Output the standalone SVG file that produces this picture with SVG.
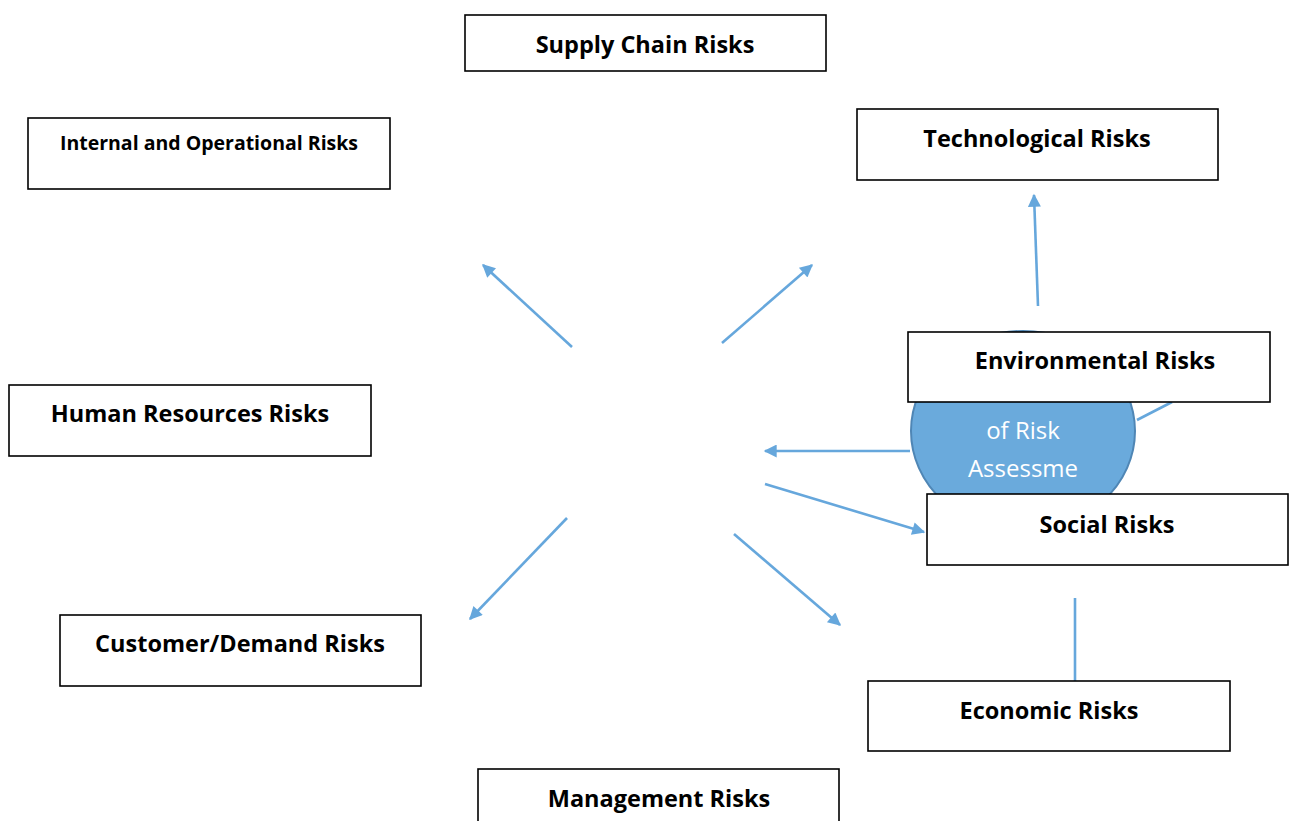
<svg xmlns="http://www.w3.org/2000/svg" width="1290" height="821" viewBox="0 0 1290 821">
  <style>
    .box { fill: #ffffff; stroke: #000000; stroke-width: 1.6; }
    .lbl { font-family: "Open Sans", Lato, "Liberation Sans", sans-serif; font-weight: bold; font-size: 23.5px; fill: #000000; text-anchor: middle; }
    .small { font-size: 19.5px; }
    .conn { stroke: #66a7dc; stroke-width: 2.6; fill: none; }
    .hub { fill: #6aaadc; stroke: #4f86b5; stroke-width: 2; }
    .hubtxt { font-family: "Open Sans", Lato, "Liberation Sans", sans-serif; font-size: 24px; fill: #ffffff; text-anchor: middle; }
  </style>
  <defs>
    <marker id="arr" viewBox="0 0 10 10" refX="9" refY="5" markerWidth="6" markerHeight="5" markerUnits="strokeWidth" orient="auto">
      <path d="M0,0 L10,5 L0,10 z" fill="#66a7dc"/>
    </marker>
  </defs>

  <rect width="1290" height="821" fill="#ffffff"/>

  <!-- central hub (partly hidden behind neighbouring boxes) -->
  <g id="hub">
    <ellipse class="hub" cx="1023" cy="431" rx="112" ry="100"/>
    <text class="hubtxt" x="1023" y="439">of Risk</text>
    <text class="hubtxt" x="1023" y="477">Assessme</text>
  </g>

  <g id="connectors">
    <line class="conn" x1="572" y1="347" x2="483" y2="265" marker-end="url(#arr)"/>
    <line class="conn" x1="722" y1="343" x2="812" y2="265" marker-end="url(#arr)"/>
    <line class="conn" x1="910" y1="451" x2="765" y2="451" marker-end="url(#arr)"/>
    <line class="conn" x1="765" y1="484" x2="924" y2="532" marker-end="url(#arr)"/>
    <line class="conn" x1="567" y1="518" x2="470" y2="619" marker-end="url(#arr)"/>
    <line class="conn" x1="734" y1="534" x2="840" y2="625" marker-end="url(#arr)"/>
    <line class="conn" x1="1038" y1="306" x2="1034" y2="195" marker-end="url(#arr)"/>
    <line class="conn" x1="1137" y1="420" x2="1172" y2="402"/>
    <line class="conn" x1="1075" y1="598" x2="1075" y2="681"/>
  </g>

  <g id="supply-chain">
    <rect class="box" x="465" y="15" width="361" height="56"/>
    <text class="lbl" x="645" y="53">Supply Chain Risks</text>
  </g>
  <g id="internal-operational">
    <rect class="box" x="28" y="118" width="362" height="71"/>
    <text class="lbl small" x="209" y="150">Internal and Operational Risks</text>
  </g>
  <g id="technological">
    <rect class="box" x="857" y="109" width="361" height="71"/>
    <text class="lbl" x="1037" y="147">Technological Risks</text>
  </g>
  <g id="environmental">
    <rect class="box" x="908" y="332" width="362" height="70"/>
    <text class="lbl" x="1095" y="369">Environmental Risks</text>
  </g>
  <g id="human-resources">
    <rect class="box" x="9" y="385" width="362" height="71"/>
    <text class="lbl" x="190" y="422">Human Resources Risks</text>
  </g>
  <g id="social">
    <rect class="box" x="927" y="494" width="361" height="71"/>
    <text class="lbl" x="1107" y="533">Social Risks</text>
  </g>
  <g id="customer-demand">
    <rect class="box" x="60" y="615" width="361" height="71"/>
    <text class="lbl" x="240" y="652">Customer/Demand Risks</text>
  </g>
  <g id="economic">
    <rect class="box" x="868" y="681" width="362" height="70"/>
    <text class="lbl" x="1049" y="719">Economic Risks</text>
  </g>
  <g id="management">
    <rect class="box" x="478" y="769" width="361" height="60"/>
    <text class="lbl" x="659" y="807">Management Risks</text>
  </g>
</svg>
